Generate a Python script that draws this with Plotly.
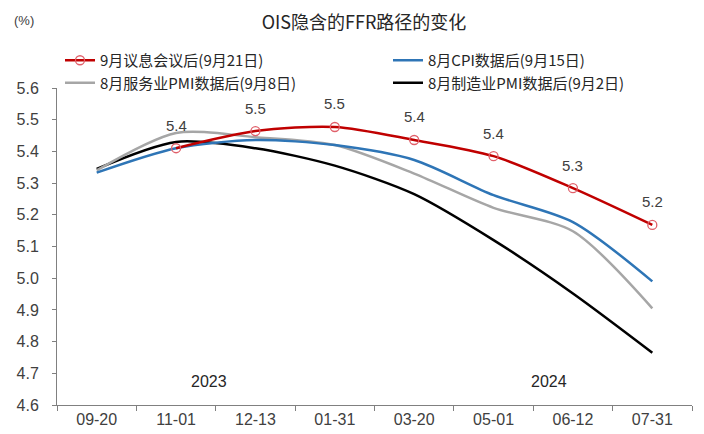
import plotly.graph_objects as go

categories = ["09-20", "11-01", "12-13", "01-31", "03-20", "05-01", "06-12", "07-31"]

fomc_sep21 = [None, 5.41, 5.464, 5.477, 5.436, 5.385, 5.284, 5.168]
cpi_sep15 = [5.333, 5.41, 5.436, 5.42, 5.373, 5.262, 5.177, 4.99]
services_pmi_sep8 = [5.34, 5.458, 5.445, 5.42, 5.33, 5.222, 5.148, 4.905]
mfg_pmi_sep2 = [5.345, 5.43, 5.41, 5.355, 5.265, 5.12, 4.952, 4.765]

red_labels = ["", "5.4", "5.5", "5.5", "5.4", "5.4", "5.3", "5.2"]
y_ticks = [4.6, 4.7, 4.8, 4.9, 5.0, 5.1, 5.2, 5.3, 5.4, 5.5, 5.6]
year_labels = ["2023", "2024"]
year_pos = [1.42, 5.7]

names = [
    "9月议息会议后(9月21日)",
    "8月CPI数据后(9月15日)",
    "8月服务业PMI数据后(9月8日)",
    "8月制造业PMI数据后(9月2日)",
]

FONT = "Liberation Sans, Arial, Noto Sans CJK SC, sans-serif"
CJK = "Noto Sans CJK SC, sans-serif"
W, H = 696, 426  # page adds an 8px body margin

fig = go.Figure()

fig.add_trace(go.Scatter(x=categories, y=mfg_pmi_sep2, name=names[3], mode="lines", legend="legend2",
                         line=dict(color="#000000", width=2.5, shape="spline", smoothing=0.8), legendrank=2))
fig.add_trace(go.Scatter(x=categories, y=services_pmi_sep8, name=names[2], mode="lines", legend="legend",
                         line=dict(color="#a6a6a6", width=2.5, shape="spline", smoothing=0.8), legendrank=2))
fig.add_trace(go.Scatter(x=categories, y=cpi_sep15, name=names[1], mode="lines", legend="legend2",
                         line=dict(color="#2e75b6", width=2.5, shape="spline", smoothing=0.8), legendrank=1))
fig.add_trace(go.Scatter(x=categories, y=fomc_sep21, name=names[0], mode="lines+markers", legend="legend",
                         line=dict(color="#c00000", width=2.5, shape="spline", smoothing=0.8),
                         marker=dict(symbol="circle-open", size=9, color="#e0606a", line=dict(width=1.3)),
                         legendrank=1))

for c, v, t in zip(categories, fomc_sep21, red_labels):
    if v is None:
        continue
    fig.add_annotation(x=c, y=v, text=t, showarrow=False, yshift=23,
                       font=dict(size=15, color="#404040", family=FONT))

for t, p in zip(year_labels, year_pos):
    fig.add_annotation(x=p, y=4.6, text=t, showarrow=False, yshift=24,
                       font=dict(size=16, color="#262626", family=FONT))

fig.add_annotation(xref="paper", yref="paper", x=0, y=1, text="(%)", showarrow=False,
                   xanchor="center", yanchor="middle", xshift=-33, yshift=68,
                   font=dict(size=13, color="#404040", family=FONT))

leg_common = dict(orientation="v", xref="container", yref="container", xanchor="left",
                  yanchor="top", tracegroupgap=0, bgcolor="rgba(0,0,0,0)", itemwidth=30,
                  font=dict(size=15, color="#262626", family=CJK))

fig.update_layout(
    width=W, height=H,
    paper_bgcolor="white", plot_bgcolor="white",
    margin=dict(l=49, r=12, t=80, b=29, autoexpand=False),
    title=dict(text="OIS隐含的FFR路径的变化", x=356 / W, xref="container", xanchor="center",
               y=1 - 15 / H, yref="container", yanchor="middle",
               font=dict(size=18, color="#262626", family=CJK)),
    font=dict(family=FONT, color="#404040", size=14),
    showlegend=True,
    legend=dict(x=52 / W, y=1 - 36 / H, **leg_common),
    legend2=dict(x=380 / W, y=1 - 36 / H, **leg_common),
    xaxis=dict(type="category", range=[-0.5, 7.5], showline=True, linecolor="#808080", linewidth=1,
               ticks="outside", tickson="boundaries", ticklen=5, tickcolor="#808080",
               showgrid=False, zeroline=False, automargin=False,
               tickfont=dict(size=16, color="#404040", family=FONT)),
    yaxis=dict(range=[4.6, 5.6], tickvals=y_ticks, tickformat=".1f", showline=True,
               linecolor="#808080", linewidth=1, ticks="outside", ticklen=4, tickcolor="#808080",
               showgrid=False, zeroline=False, automargin=False, ticklabelstandoff=10,
               tickfont=dict(size=16, color="#404040", family=FONT)),
)

fig.write_html("out.html")
